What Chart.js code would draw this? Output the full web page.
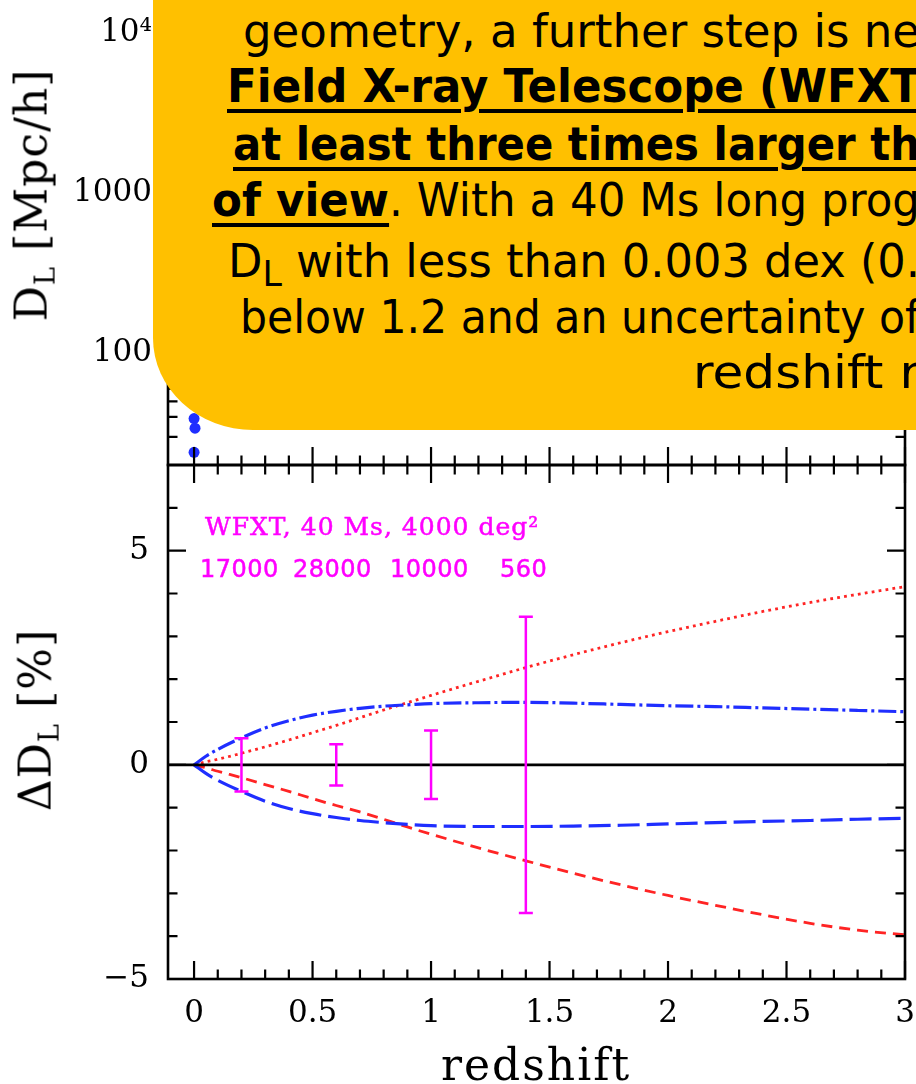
<!DOCTYPE html>
<html>
<head>
<meta charset="utf-8">
<title>WFXT - luminosity distance</title>
<script src="https://cdn.jsdelivr.net/npm/chart.js@4.4.1/dist/chart.umd.min.js"></script>
<style>
  html, body { margin: 0; padding: 0; background: #fff; }
  #page { position: relative; width: 916px; height: 1084px; overflow: hidden; background: #fff; }
  canvas { position: absolute; left: 0; }
  #upper-chart { top: 0; }
  #lower-chart { top: 440px; }
  .txt { position: absolute; white-space: pre; line-height: 1; }
  .serif { font-family: 'DejaVu Serif', serif; color: #000; }
  .mag { color: #ff00ff; -webkit-text-stroke: 0.5px #ff00ff; }
  .title { position: absolute; white-space: nowrap; line-height: 1; font-family: 'DejaVu Serif', serif; font-size: 44px; color: #000; }
  .title sub { font-size: 0.62em; vertical-align: -0.28em; }
  #callout { position: absolute; left: 153px; top: -120px; width: 800px; height: 550px; background: #ffc000; border-bottom-left-radius: 100px 92px; }
  .cl { position: absolute; white-space: pre; line-height: 1; font-family: 'Comic Sans MS', 'DejaVu Sans', sans-serif; font-size: 46px; color: #000; transform-origin: 0 0; }
  .cl b { text-decoration: underline; text-decoration-thickness: 4px; text-underline-offset: 7px; }
  .cl sub { font-size: 0.78em; vertical-align: -0.25em; }
  .bl { display: inline-block; width: 0; height: 0; vertical-align: baseline; }
</style>
</head>
<body>
<div id="page">
  <canvas id="upper-chart" width="916" height="490"></canvas>
  <canvas id="lower-chart" width="916" height="644"></canvas>

  <div class="title" id="title-dl" style="left:34px;top:195px;transform:translate(-50%,-50%) rotate(-90deg);letter-spacing:1px">D<sub>L</sub> [Mpc/h]</div>
  <div class="title" id="title-ddl" style="left:38px;top:720px;transform:translate(-50%,-50%) rotate(-90deg);letter-spacing:1px">&Delta;D<sub>L</sub> [%]</div>
  <div class="txt serif place" data-x="441" data-base="1080" style="font-size:44px;letter-spacing:2px">redshift</div>

  <div class="txt serif mag place" data-x="205" data-base="535" style="font-size:25px;letter-spacing:1px">WFXT, 40 Ms, 4000 deg²</div>
  <div class="txt mag place" data-x="200" data-base="577" style="font-family:'DejaVu Sans',sans-serif;font-size:24px;letter-spacing:0.5px">17000</div>
  <div class="txt mag place" data-x="293" data-base="577" style="font-family:'DejaVu Sans',sans-serif;font-size:24px;letter-spacing:0.5px">28000</div>
  <div class="txt mag place" data-x="390" data-base="577" style="font-family:'DejaVu Sans',sans-serif;font-size:24px;letter-spacing:0.5px">10000</div>
  <div class="txt mag place" data-x="500" data-base="577" style="font-family:'DejaVu Sans',sans-serif;font-size:24px;letter-spacing:0.5px">560</div>

  <div id="callout"></div>
  <div class="cl place" data-x="243" data-base="47" data-right="920">geometry, a further step is ne</div>
  <div class="cl place" data-x="227" data-base="102" data-right="920"><b>Field X-ray Telescope (WFXT</b></div>
  <div class="cl place" data-x="233" data-base="160" data-right="920"><b>at least three times larger th</b></div>
  <div class="cl place" data-x="212" data-base="216" data-right="920"><b>of view</b>. With a 40 Ms long prog</div>
  <div class="cl place" data-x="228" data-base="277" data-right="920">D<sub>L</sub> with less than 0.003 dex (0.</div>
  <div class="cl place" data-x="240" data-base="333" data-right="920">below 1.2 and an uncertainty of</div>
  <div class="cl place" data-x="693" data-base="388" data-right="920">redshift r</div>
</div>

<script>
// ---- data ----
const zGrid      = [0, 0.05, 0.1, 0.2, 0.3, 0.4, 0.5, 0.6, 0.7, 0.8, 0.9, 1.0, 1.2, 1.4, 1.6, 1.8, 2.0, 2.2, 2.4, 2.6, 2.8, 3.0];
const blueUpper  = [0, 0.20, 0.36, 0.63, 0.86, 1.03, 1.16, 1.25, 1.32, 1.37, 1.40, 1.43, 1.45, 1.46, 1.44, 1.41, 1.38, 1.36, 1.33, 1.30, 1.27, 1.24];
const blueLower  = [0, -0.20, -0.36, -0.62, -0.85, -1.02, -1.14, -1.23, -1.30, -1.35, -1.39, -1.42, -1.44, -1.44, -1.43, -1.41, -1.38, -1.35, -1.32, -1.30, -1.27, -1.25];
const redDotted  = [0, 0.07, 0.13, 0.27, 0.42, 0.58, 0.75, 0.92, 1.10, 1.28, 1.45, 1.62, 1.95, 2.27, 2.57, 2.85, 3.11, 3.35, 3.58, 3.79, 3.98, 4.16];
const redDashed  = [0, -0.07, -0.15, -0.30, -0.46, -0.62, -0.79, -0.95, -1.10, -1.27, -1.45, -1.62, -1.94, -2.24, -2.53, -2.80, -3.05, -3.28, -3.50, -3.70, -3.86, -3.97];

const errZ    = [0.2, 0.6, 1.0, 1.4];
const errHalf = [0.62, 0.48, 0.80, 3.46];

const dotZ  = [0.0, 0.004, 0.0];
const dotDL = [39, 34, 24];

const X_MIN = -0.11, X_MAX = 3;
const Y_MIN = -5, Y_MAX = 7;
const DL_MIN = 20, DL_MAX = 14890;

const xMajor = [0, 0.5, 1, 1.5, 2, 2.5, 3];
const xMinor = [0.1, 0.2, 0.3, 0.4, 0.6, 0.7, 0.8, 0.9, 1.1, 1.2, 1.3, 1.4, 1.6, 1.7, 1.8, 1.9, 2.1, 2.2, 2.3, 2.4, 2.6, 2.7, 2.8, 2.9];
const yMajor = [-5, 0, 5];
const yMinor = [-4, -3, -2, -1, 1, 2, 3, 4, 6];
const dlMajor = [100, 1000, 10000];
const dlMinor = [30, 40, 50, 60, 70, 80, 90, 200, 300, 400, 500, 600, 700, 800, 900, 2000, 3000, 4000, 5000, 6000, 7000, 8000, 9000];
const dlLabels = {100: '100', 1000: '1000', 10000: '10\u2074'};

const BLUE = '#1f2eff';
const RED = '#ff2424';
const MAGENTA = '#ff00ff';
const TICK_FONT = {family: 'DejaVu Serif', size: 31};

function pts(xs, ys) {
  return xs.map((x, i) => ({x: x, y: ys[i]}));
}

// box round the plot with inward tick marks, like the original
const frameTicks = {
  id: 'frameTicks',
  afterDatasetsDraw(chart, args, o) {
    const ctx = chart.ctx, a = chart.chartArea;
    const xs = chart.scales.x, ys = chart.scales.y;
    ctx.save();
    ctx.strokeStyle = '#000';
    ctx.lineWidth = 2.6;
    ctx.strokeRect(a.left, a.top, a.right - a.left, a.bottom - a.top);
    ctx.lineWidth = 2.2;
    ctx.beginPath();
    const xt = (vals, len) => vals.forEach(v => {
      const px = xs.getPixelForValue(v);
      if (o.bottom) { ctx.moveTo(px, a.bottom); ctx.lineTo(px, a.bottom - len * o.bottom); }
      if (o.top) { ctx.moveTo(px, a.top); ctx.lineTo(px, a.top + len * o.top); }
    });
    const yt = (vals, len) => vals.forEach(v => {
      const py = ys.getPixelForValue(v);
      ctx.moveTo(a.left, py); ctx.lineTo(a.left + len, py);
      ctx.moveTo(a.right, py); ctx.lineTo(a.right - len, py);
    });
    xt(o.xMajor, 18);
    xt(o.xMinor, 9.5);
    yt(o.yMajor, 18);
    yt(o.yMinor, 9.5);
    ctx.stroke();
    ctx.restore();
  }
};

const errorBars = {
  id: 'errorBars',
  afterDatasetsDraw(chart) {
    const ctx = chart.ctx;
    const xs = chart.scales.x, ys = chart.scales.y;
    ctx.save();
    ctx.strokeStyle = MAGENTA;
    ctx.lineWidth = 2.5;
    ctx.beginPath();
    errZ.forEach((z, i) => {
      const px = xs.getPixelForValue(z);
      const top = ys.getPixelForValue(errHalf[i]);
      const bot = ys.getPixelForValue(-errHalf[i]);
      ctx.moveTo(px, top); ctx.lineTo(px, bot);
      ctx.moveTo(px - 7, top); ctx.lineTo(px + 7, top);
      ctx.moveTo(px - 7, bot); ctx.lineTo(px + 7, bot);
    });
    ctx.stroke();
    ctx.restore();
  }
};

function fixX(height) {
  return s => { s.height = height; s.paddingLeft = 0; s.paddingRight = 0; };
}
function fixY(width) {
  return s => { s.width = width; s.paddingTop = 0; s.paddingBottom = 0; };
}

// upper panel: D_L, log scale (mostly hidden by the callout)
new Chart(document.getElementById('upper-chart'), {
  type: 'scatter',
  data: {
    datasets: [{
      label: 'D_L',
      data: pts(dotZ, dotDL),
      pointRadius: 5.5,
      pointBackgroundColor: BLUE,
      pointBorderWidth: 0
    }]
  },
  options: {
    responsive: false,
    animation: false,
    layout: {padding: {top: 0, right: 11, left: 0, bottom: 0}},
    plugins: {
      legend: {display: false},
      tooltip: {enabled: false},
      frameTicks: {xMajor: xMajor, xMinor: xMinor, yMajor: dlMajor, yMinor: dlMinor, bottom: 1, top: 1}
    },
    scales: {
      x: {
        type: 'linear', min: X_MIN, max: X_MAX,
        grid: {display: false, drawTicks: false}, border: {display: false},
        ticks: {display: false},
        afterFit: fixX(25)
      },
      y: {
        type: 'logarithmic', min: DL_MIN, max: DL_MAX,
        grid: {display: false, drawTicks: false}, border: {display: false},
        afterBuildTicks: s => { s.ticks = dlMajor.map(v => ({value: v})); },
        ticks: {color: '#000', font: TICK_FONT, padding: 16, callback: v => dlLabels[v] || ''},
        afterFit: fixY(168)
      }
    }
  },
  plugins: [frameTicks]
});

// lower panel: Delta D_L in per cent
new Chart(document.getElementById('lower-chart'), {
  type: 'scatter',
  data: {
    datasets: [
      {
        label: 'zero',
        data: pts([X_MIN, X_MAX], [0, 0]),
        showLine: true, borderColor: '#000', borderWidth: 2.6, pointRadius: 0
      },
      {
        label: 'upper dash-dot',
        data: pts(zGrid, blueUpper),
        showLine: true, borderColor: BLUE, borderWidth: 3.2, borderDash: [18, 4, 3, 4],
        pointRadius: 0, cubicInterpolationMode: 'monotone'
      },
      {
        label: 'lower long dash',
        data: pts(zGrid, blueLower),
        showLine: true, borderColor: BLUE, borderWidth: 3.2, borderDash: [22, 7],
        pointRadius: 0, cubicInterpolationMode: 'monotone'
      },
      {
        label: 'red dotted',
        data: pts(zGrid, redDotted),
        showLine: true, borderColor: RED, borderWidth: 2.8, borderDash: [2.8, 4.2],
        pointRadius: 0, cubicInterpolationMode: 'monotone'
      },
      {
        label: 'red dashed',
        data: pts(zGrid, redDashed),
        showLine: true, borderColor: RED, borderWidth: 2.8, borderDash: [11, 7],
        pointRadius: 0, cubicInterpolationMode: 'monotone'
      }
    ]
  },
  options: {
    responsive: false,
    animation: false,
    layout: {padding: {top: 25, right: 11, left: 0, bottom: 0}},
    plugins: {
      legend: {display: false},
      tooltip: {enabled: false},
      frameTicks: {xMajor: xMajor, xMinor: xMinor, yMajor: yMajor, yMinor: yMinor, bottom: 1, top: 1}
    },
    scales: {
      x: {
        type: 'linear', min: X_MIN, max: X_MAX,
        grid: {display: false, drawTicks: false}, border: {display: false},
        afterBuildTicks: s => { s.ticks = xMajor.map(v => ({value: v})); },
        ticks: {color: '#000', font: TICK_FONT, padding: 16, maxRotation: 0, autoSkip: false, callback: v => String(v)},
        afterFit: fixX(105)
      },
      y: {
        type: 'linear', min: Y_MIN, max: Y_MAX,
        grid: {display: false, drawTicks: false}, border: {display: false},
        afterBuildTicks: s => { s.ticks = yMajor.map(v => ({value: v})); },
        ticks: {color: '#000', font: TICK_FONT, padding: 19, callback: v => (v < 0 ? '\u2212' + Math.abs(v) : String(v))},
        afterFit: fixY(168)
      }
    }
  },
  plugins: [frameTicks, errorBars]
});

// put text on its baseline, and squeeze callout lines to the width they take in the picture
document.querySelectorAll('.place').forEach(el => {
  const mark = document.createElement('i');
  mark.className = 'bl';
  el.appendChild(mark);
  const left = +el.dataset.x;
  el.style.left = left + 'px';
  el.style.top = '0px';
  el.style.top = (+el.dataset.base - mark.offsetTop) + 'px';
  if (el.dataset.right) {
    const w = el.getBoundingClientRect().width;
    el.style.transform = 'scaleX(' + ((+el.dataset.right - left) / w).toFixed(4) + ')';
  }
});
</script>
</body>
</html>
